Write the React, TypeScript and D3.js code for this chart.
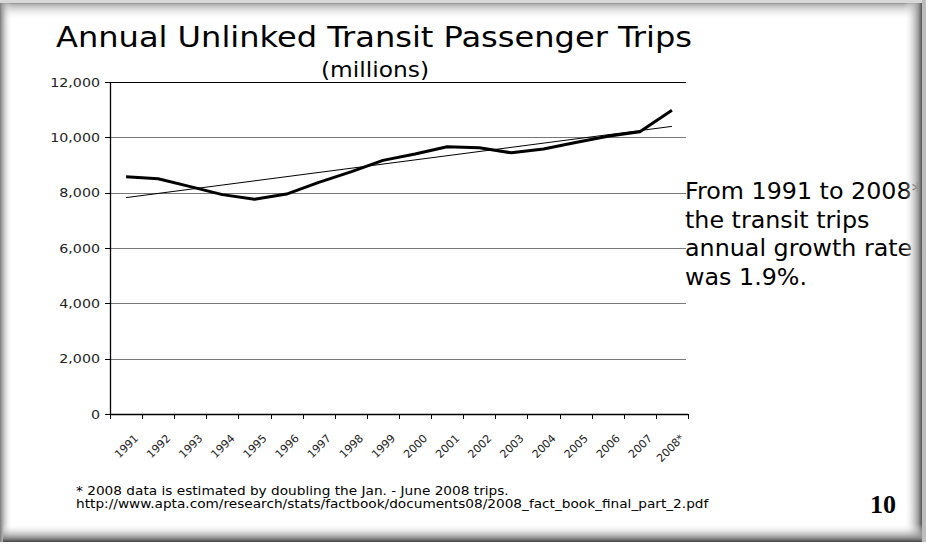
import React from "react";
import * as d3 from "d3";

const years = ["1991","1992","1993","1994","1995","1996","1997","1998","1999","2000","2001","2002","2003","2004","2005","2006","2007","2008*"];
const trips = [8575, 8501, 8217, 7929, 7763, 7948, 8374, 8750, 9168, 9400, 9660, 9620, 9440, 9580, 9810, 10040, 10200, 10980];
const yTicks = [0, 2000, 4000, 6000, 8000, 10000, 12000];
const titleText = "Annual Unlinked Transit Passenger Trips";
const subtitleText = "(millions)";
const noteLines = ["From 1991 to 2008*", "the transit trips", "annual growth rate", "was 1.9%."];
const footLines = [
  "* 2008 data is estimated by doubling the Jan. - June 2008 trips.",
  "http://www.apta.com/research/stats/factbook/documents08/2008_fact_book_final_part_2.pdf",
];
const pageNumber = "10";

const W = 926, H = 546;
const left = 110, right = 688, top = 82, bottom = 414;
const FONT = "'DejaVu Sans', Verdana, sans-serif";

export default function App() {
  const x = d3.scaleBand<string>().domain(years).range([left, right]);
  const y = d3.scaleLinear().domain([0, 12000]).range([bottom, top]);
  const cx = (d: string) => (x(d) as number) + x.bandwidth() / 2;
  const fmt = d3.format(",");

  const pts: [number, number][] = years.map((d, i) => [cx(d), y(trips[i])]);
  const line = d3.line();

  // least-squares trend
  const n = trips.length;
  const idx = d3.range(n);
  const mi = d3.mean(idx) as number;
  const mv = d3.mean(trips) as number;
  const slope = d3.sum(idx, (i) => (i - mi) * (trips[i] - mv)) / d3.sum(idx, (i) => (i - mi) ** 2);
  const icpt = mv - slope * mi;
  const trend: [number, number][] = [
    [cx(years[0]), y(icpt)],
    [cx(years[n - 1]), y(icpt + slope * (n - 1))],
  ];

  const sx = 1.14;

  return (
    <svg width={W} height={H} style={{ position: "absolute", left: 0, top: 0, background: "#fff" }}>
      <defs>
        <linearGradient id="gl" x1="0" x2="1" y1="0" y2="0">
          <stop offset="0" stopColor="#7a7a7a" />
          <stop offset="1" stopColor="#ffffff" stopOpacity="0" />
        </linearGradient>
        <linearGradient id="gr" x1="0" x2="1" y1="0" y2="0">
          <stop offset="0" stopColor="#ffffff" stopOpacity="0" />
          <stop offset="0.8" stopColor="#9a9a9a" />
          <stop offset="1" stopColor="#555" />
        </linearGradient>
        <linearGradient id="gt" x1="0" x2="0" y1="0" y2="1">
          <stop offset="0" stopColor="#b0b0b0" />
          <stop offset="1" stopColor="#ffffff" stopOpacity="0" />
        </linearGradient>
        <linearGradient id="gb" x1="0" x2="0" y1="0" y2="1">
          <stop offset="0" stopColor="#ffffff" stopOpacity="0" />
          <stop offset="0.8" stopColor="#8a8a8a" />
          <stop offset="1" stopColor="#444" />
        </linearGradient>
      </defs>
      <rect x={0} y={0} width={W} height={H} fill="#fff" />

      {/* title */}
      <text x={56} y={47} fontFamily={FONT} fontSize={27.5} textLength={636} lengthAdjust="spacingAndGlyphs" fill="#000">
        {titleText}
      </text>
      <text x={375} y={77} fontFamily={FONT} fontSize={21} textAnchor="middle" textLength={108} lengthAdjust="spacingAndGlyphs" fill="#000">
        {subtitleText}
      </text>

      {/* grid */}
      {yTicks.filter((t) => t > 0).map((t) => (
        <line key={t} x1={left} x2={686} y1={Math.round(y(t)) + 0.5} y2={Math.round(y(t)) + 0.5} stroke={t === 12000 ? "#000" : "#777"} strokeWidth={1} />
      ))}
      {/* y axis */}
      <line x1={left + 0.5} x2={left + 0.5} y1={top} y2={bottom} stroke="#000" strokeWidth={1.3} />
      {yTicks.map((t) => (
        <g key={"yt" + t}>
          <line x1={left - 5} x2={left} y1={Math.round(y(t)) + 0.5} y2={Math.round(y(t)) + 0.5} stroke="#000" />
          <text transform={`translate(${left - 10},${y(t) + 4.5}) scale(${sx},1)`} fontFamily={FONT} fontSize={12.5} textAnchor="end" fill="#222">
            {fmt(t)}
          </text>
        </g>
      ))}
      {/* x axis */}
      <line x1={left} x2={right} y1={bottom + 0.5} y2={bottom + 0.5} stroke="#000" strokeWidth={1.3} />
      {d3.range(years.length + 1).map((i) => {
        const xx = Math.round(left + x.step() * i) + 0.5;
        return <line key={"xt" + i} x1={xx} x2={xx} y1={bottom} y2={bottom + 5} stroke="#000" />;
      })}
      {years.map((d) => (
        <text key={"xl" + d} transform={`translate(${cx(d) + 13},${439}) rotate(-45)`} fontFamily={FONT} fontSize={11} textAnchor="end" fill="#222">
          {d}
        </text>
      ))}

      {/* data */}
      <path d={line(trend) as string} fill="none" stroke="#000" strokeWidth={1} />
      <path d={line(pts) as string} fill="none" stroke="#000" strokeWidth={3} strokeLinejoin="round" />

      {/* annotation */}
      {noteLines.map((s, i) => (
        <text key={"n" + i} transform={`translate(685,${199 + i * 28.7}) scale(1.035,1)`} fontFamily={FONT} fontSize={23} fill="#000">
          {s}
        </text>
      ))}

      {/* footnotes */}
      {footLines.map((s, i) => (
        <text key={"f" + i} transform={`translate(76,${495 + i * 13}) scale(${sx},1)`} fontFamily={FONT} fontSize={12} fill="#000">
          {s}
        </text>
      ))}
      <text x={870} y={513} fontFamily="'Liberation Serif', 'Times New Roman', serif" fontWeight="bold" fontSize={26} fill="#000">
        {pageNumber}
      </text>

      {/* frame */}
      <rect x={0} y={0} width={W} height={3} fill="#d8d8d8" />
      <rect x={0} y={3} width={W} height={1.5} fill="#999" />
      <rect x={3} y={4} width={918} height={16} fill="url(#gt)" />
      <rect x={0} y={3} width={12} height={539} fill="url(#gl)" />
      <rect x={904} y={3} width={18} height={539} fill="url(#gr)" />
      <rect x={922} y={0} width={4} height={H} fill="#bdbdbd" />
      <rect x={3} y={524} width={919} height={18} fill="url(#gb)" />
      <rect x={0} y={542} width={W} height={4} fill="#fff" />
    </svg>
  );
}
